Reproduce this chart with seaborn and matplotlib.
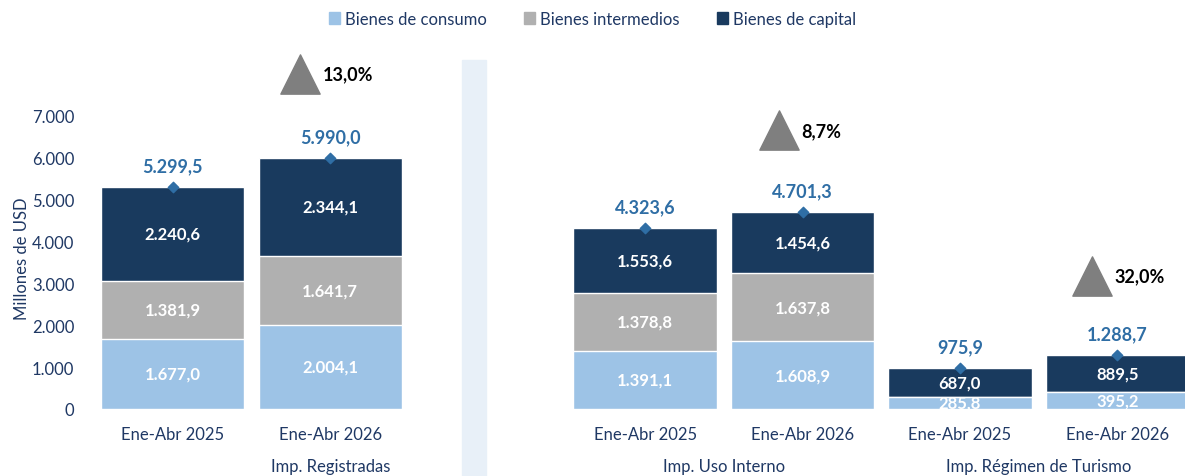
import numpy as np
import pandas as pd
import matplotlib
matplotlib.use("Agg")
import matplotlib.pyplot as plt
import seaborn as sns

# data
periods = ["Ene-Abr 2025", "Ene-Abr 2026", "Ene-Abr 2025", "Ene-Abr 2026", "Ene-Abr 2025", "Ene-Abr 2026"]
groups = ["Imp. Registradas", "Imp. Uso Interno", "Imp. Régimen de Turismo"]
consumo = [1677.0, 2004.1, 1391.1, 1608.9, 285.8, 395.2]
intermedios = [1381.9, 1641.7, 1378.8, 1637.8, 3.1, 4.0]
capital = [2240.6, 2344.1, 1553.6, 1454.6, 687.0, 889.5]
totales = [5299.5, 5990.0, 4323.6, 4701.3, 975.9, 1288.7]
variaciones = ["13,0%", "8,7%", "32,0%"]

pos = [0, 1, 3, 4, 5, 6]
group_centers = [1.0, 3.5, 5.5]
tri_x = [0.81, 3.85, 5.84]
tri_y = [7980, 6640, 3170]

c_cons = "#9DC3E6"
c_int = "#B0B0B0"
c_cap = "#193A5E"
c_tot = "#2F6EA5"
c_txt = "#1F3864"

df = pd.DataFrame({
    "pos": pos,
    "cons": consumo,
    "cons_int": np.array(consumo) + np.array(intermedios),
    "total": np.array(consumo) + np.array(intermedios) + np.array(capital),
})


def fmt(v):
    s = f"{v:,.1f}"
    return s.replace(",", "X").replace(".", ",").replace("X", ".")


sns.set_style("white")
plt.rcParams["font.family"] = ["Lato", "DejaVu Sans"]

fig = plt.figure(figsize=(11.85, 4.77), dpi=100)
ax = fig.add_axes([80 / 1185, 67 / 477, 1 - 80 / 1185, 361 / 477])

# stacked bars drawn as overlapping cumulative bars
sns.barplot(data=df, x="pos", y="total", native_scale=True, orient="x", color=c_cap,
            width=0.91, errorbar=None, saturation=1, ax=ax)
sns.barplot(data=df, x="pos", y="cons_int", native_scale=True, orient="x", color=c_int,
            width=0.91, errorbar=None, saturation=1, ax=ax)
sns.barplot(data=df, x="pos", y="cons", native_scale=True, orient="x", color=c_cons,
            width=0.91, errorbar=None, saturation=1, ax=ax)

ax.set_xlim(-0.59, 6.43)
ax.set_ylim(0, 8600)
ax.set_yticks(range(0, 7001, 1000))
ax.set_yticklabels([f"{v:,}".replace(",", ".") for v in range(0, 7001, 1000)],
                   fontsize=12, color=c_txt)
ax.set_xticks(pos)
ax.set_xticklabels(periods, fontsize=12, color=c_txt)
ax.tick_params(axis="x", length=0, pad=12)
ax.tick_params(axis="y", length=0, pad=4)
ax.set_xlabel("")
ax.set_ylabel("Millones de USD", fontsize=12, color=c_txt)
ax.yaxis.set_label_coords(-0.045, 0.42)
for s in ax.spines.values():
    s.set_visible(False)

# segment labels
for i, p in enumerate(pos):
    ax.text(p, consumo[i] / 2, fmt(consumo[i]), ha="center", va="center",
            color="white", fontsize=12, fontweight="bold", clip_on=True)
    if intermedios[i] > 100:
        ax.text(p, consumo[i] + intermedios[i] / 2, fmt(intermedios[i]), ha="center",
                va="center", color="white", fontsize=12, fontweight="bold")
    ax.text(p, consumo[i] + intermedios[i] + capital[i] / 2, fmt(capital[i]),
            ha="center", va="center", color="white", fontsize=12, fontweight="bold")
    ax.text(p, totales[i] + 500, fmt(totales[i]), ha="center", va="center",
            color=c_tot, fontsize=13, fontweight="bold")

ax.scatter(pos, totales, marker="D", s=28, color=c_tot, zorder=5)

# growth triangles
ax.scatter(tri_x, tri_y, marker="^", s=800, color="#7F7F7F", zorder=5, clip_on=False)
for x, y, t in zip(tri_x, tri_y, variaciones):
    ax.text(x + 0.14, y, t, ha="left", va="center", fontsize=13,
            fontweight="bold", color="black")

# group labels
for x, g in zip(group_centers, groups):
    ax.text(x, -0.158, g, transform=ax.get_xaxis_transform(), ha="center",
            va="center", fontsize=12, color=c_txt)

# separator band
ax.axvspan(1.835, 1.99, ymin=-0.19, ymax=0.967, color="#E8F0F8", zorder=0, clip_on=False)

handles = [plt.Rectangle((0, 0), 1, 1, color=c) for c in [c_cons, c_int, c_cap]]
fig.legend(handles, ["Bienes de consumo", "Bienes intermedios", "Bienes de capital"],
           loc="center", bbox_to_anchor=(0.5, 1 - 20 / 477), ncol=3, frameon=False,
           fontsize=12, handlelength=0.7, handleheight=0.7, handletextpad=0.3,
           columnspacing=2.2, labelcolor=c_txt)

fig.savefig("out.png", dpi=100)
